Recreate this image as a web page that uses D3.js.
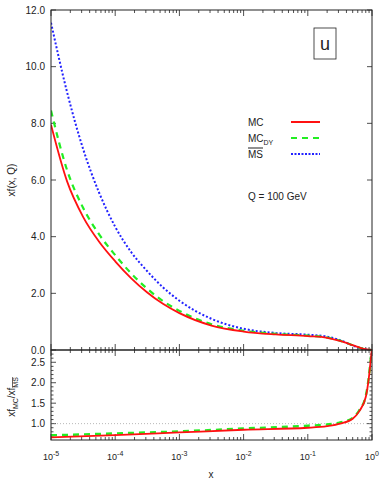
<!DOCTYPE html>
<html>
<head>
<meta charset="utf-8">
<script src="https://cdn.jsdelivr.net/npm/d3@7"></script>
<style>
  body { margin: 0; background: #fff; }
  svg { display: block; font-family: "Liberation Sans", Arial, sans-serif; }
</style>
</head>
<body>
<div id="chart"></div>
<script>
// x grid (shared by the three upper curves)
const xGrid = [1e-5, 1.78e-5, 3.16e-5, 5.62e-5, 1e-4, 1.78e-4, 3.16e-4, 5.62e-4, 1e-3, 3.16e-3, 1e-2, 3.16e-2, 0.1, 0.2, 0.316, 0.5, 0.71, 1];
const mcValues   = [7.95, 5.95, 4.7, 3.82, 3.13, 2.53, 2.03, 1.62, 1.3, 0.86, 0.65, 0.55, 0.49, 0.43, 0.32, 0.17, 0.05, 0.0];
const mcdyValues = [8.45, 6.35, 5.02, 4.08, 3.35, 2.7, 2.16, 1.72, 1.38, 0.91, 0.68, 0.57, 0.51, 0.44, 0.33, 0.17, 0.05, 0.0];
const msValues   = [11.55, 9.1, 7.1, 5.55, 4.35, 3.45, 2.78, 2.2, 1.74, 1.1, 0.75, 0.6, 0.54, 0.47, 0.35, 0.16, 0.04, 0.0];

// ratio panel
const xRatio = [1e-5, 1e-4, 1e-3, 1e-2, 0.1, 0.2, 0.32, 0.5, 0.63, 0.8, 0.89, 0.955, 1];
const mcRatio   = [0.665, 0.72, 0.785, 0.85, 0.90, 0.94, 1.0, 1.12, 1.3, 1.65, 2.1, 2.55, 2.85];
const mcdyRatio = [0.715, 0.76, 0.81, 0.88, 0.95, 0.98, 1.03, 1.14, 1.32, 1.68, 2.12, 2.57, 2.87];

const yTicksTop = [0, 2, 4, 6, 8, 10, 12];
const yTicksBot = [1.0, 1.5, 2.0, 2.5];
const xDecades = [-5, -4, -3, -2, -1, 0];

const width = 381, height = 480;
const pLeft = 51, pRight = 372, pTop = 10, pMid = 350, pBottom = 440;

const svg = d3.select('#chart').append('svg')
    .attr('width', width)
    .attr('height', height);

const x = d3.scaleLog().domain([1e-5, 1]).range([pLeft, pRight]);
const yTop = d3.scaleLinear().domain([0, 12]).range([pMid, pTop]);
const yBot = d3.scaleLinear().domain([0.6, 2.8]).range([pBottom, pMid]);

const defs = svg.append('defs');
defs.append('clipPath').attr('id', 'clip-top')
    .append('rect').attr('x', pLeft).attr('y', pTop).attr('width', pRight - pLeft).attr('height', pMid - pTop);
defs.append('clipPath').attr('id', 'clip-bot')
    .append('rect').attr('x', pLeft).attr('y', pMid).attr('width', pRight - pLeft).attr('height', pBottom - pMid);

const axisColor = '#222';
const tickFont = 10;

// minor/major x ticks
const xMinor = [];
for (let e = -5; e < 0; e++) for (let m = 2; m <= 9; m++) xMinor.push(m * Math.pow(10, e));
const xMajor = xDecades.map(e => Math.pow(10, e));

function xTicks(yLine, dir) {
    const g = svg.append('g').attr('stroke', axisColor).attr('stroke-width', 0.8);
    xMinor.forEach(v => g.append('line')
        .attr('x1', x(v)).attr('x2', x(v)).attr('y1', yLine).attr('y2', yLine + dir * 3));
    xMajor.forEach(v => g.append('line')
        .attr('x1', x(v)).attr('x2', x(v)).attr('y1', yLine).attr('y2', yLine + dir * 6));
}
xTicks(pTop, 1);
xTicks(pMid, -1);
xTicks(pMid, 1);
xTicks(pBottom, -1);

// y ticks upper
const yg = svg.append('g').attr('stroke', axisColor).attr('stroke-width', 0.8);
yTicksTop.forEach(v => {
    yg.append('line').attr('x1', pLeft).attr('x2', pLeft + 5).attr('y1', yTop(v)).attr('y2', yTop(v));
    yg.append('line').attr('x1', pRight).attr('x2', pRight - 5).attr('y1', yTop(v)).attr('y2', yTop(v));
});
// y ticks lower (minor every 0.1, major every 0.5)
d3.range(7, 28).forEach(i => {
    const v = i / 10;
    const len = i % 5 === 0 ? 5 : 2.5;
    yg.append('line').attr('x1', pLeft).attr('x2', pLeft + len).attr('y1', yBot(v)).attr('y2', yBot(v));
    yg.append('line').attr('x1', pRight).attr('x2', pRight - len).attr('y1', yBot(v)).attr('y2', yBot(v));
});

// reference line at 1
svg.append('line')
    .attr('x1', pLeft).attr('x2', pRight)
    .attr('y1', yBot(1)).attr('y2', yBot(1))
    .attr('stroke', '#999').attr('stroke-width', 0.7)
    .attr('stroke-dasharray', '1,2');

// curves
const lineTop = d3.line().x(d => x(d[0])).y(d => yTop(d[1])).curve(d3.curveMonotoneX);
const lineBot = d3.line().x(d => x(d[0])).y(d => yBot(d[1])).curve(d3.curveMonotoneX);

const series = [
    { vals: msValues, color: '#2222ff', dash: '2,2', width: 2 },
    { vals: mcdyValues, color: '#22ee22', dash: '6,5', width: 2.2 },
    { vals: mcValues, color: '#ff1111', dash: null, width: 1.8 }
];
const gTop = svg.append('g').attr('clip-path', 'url(#clip-top)');
series.forEach(s => {
    gTop.append('path')
        .attr('d', lineTop(xGrid.map((v, i) => [v, s.vals[i]])))
        .attr('fill', 'none')
        .attr('stroke', s.color)
        .attr('stroke-width', s.width)
        .attr('stroke-dasharray', s.dash);
});

const gBot = svg.append('g').attr('clip-path', 'url(#clip-bot)');
[{ vals: mcdyRatio, color: '#22ee22', dash: '6,5', width: 2.4 },
 { vals: mcRatio, color: '#ff1111', dash: null, width: 1.8 }].forEach(s => {
    gBot.append('path')
        .attr('d', lineBot(xRatio.map((v, i) => [v, s.vals[i]])))
        .attr('fill', 'none')
        .attr('stroke', s.color)
        .attr('stroke-width', s.width)
        .attr('stroke-dasharray', s.dash);
});

// frames
svg.append('rect').attr('x', pLeft).attr('y', pTop).attr('width', pRight - pLeft).attr('height', pMid - pTop)
    .attr('fill', 'none').attr('stroke', axisColor).attr('stroke-width', 1);
svg.append('rect').attr('x', pLeft).attr('y', pMid).attr('width', pRight - pLeft).attr('height', pBottom - pMid)
    .attr('fill', 'none').attr('stroke', axisColor).attr('stroke-width', 1);

// y tick labels
yTicksTop.forEach(v => {
    svg.append('text')
        .attr('x', 45).attr('y', yTop(v) + 3.5)
        .attr('text-anchor', 'end')
        .attr('font-size', tickFont)
        .attr('fill', '#222')
        .text(v.toFixed(1));
});
yTicksBot.forEach(v => {
    svg.append('text')
        .attr('x', 45).attr('y', yBot(v) + 3.5)
        .attr('text-anchor', 'end')
        .attr('font-size', tickFont)
        .attr('fill', '#222')
        .text(v.toFixed(1));
});

// x tick labels
xDecades.forEach(e => {
    const t = svg.append('text')
        .attr('x', x(Math.pow(10, e)))
        .attr('y', 460)
        .attr('text-anchor', 'middle')
        .attr('font-size', 9)
        .attr('fill', '#222');
    t.append('tspan').text('10');
    t.append('tspan').attr('dy', -4).attr('font-size', 7).text(e);
});

svg.append('text')
    .attr('x', 211).attr('y', 478)
    .attr('text-anchor', 'middle')
    .attr('font-size', 10)
    .attr('fill', '#222')
    .text('x');

// y titles
svg.append('text')
    .attr('transform', 'translate(15,180) rotate(-90)')
    .attr('text-anchor', 'middle')
    .attr('font-size', 10)
    .attr('fill', '#222')
    .text('xf(x, Q)');

const yt = svg.append('text')
    .attr('transform', 'translate(15,397) rotate(-90)')
    .attr('text-anchor', 'middle')
    .attr('font-size', 10)
    .attr('fill', '#222');
yt.append('tspan').text('xf');
yt.append('tspan').attr('font-size', 7).attr('dy', 3).text('MC');
yt.append('tspan').attr('dy', -3).text('/xf');
yt.append('tspan').attr('font-size', 7).attr('dy', 3)
    .style('text-decoration', 'overline').text('MS');

// "u" box
svg.append('rect')
    .attr('x', 314).attr('y', 28).attr('width', 22).attr('height', 31)
    .attr('fill', '#fff').attr('stroke', '#222').attr('stroke-width', 0.8);
svg.append('text')
    .attr('x', 325).attr('y', 50)
    .attr('text-anchor', 'middle')
    .attr('font-size', 18)
    .attr('fill', '#222')
    .text('u');

// legend
const legend = [
    { label: 'MC', sub: null, over: false, color: '#ff1111', dash: null, width: 2 },
    { label: 'MC', sub: 'DY', over: false, color: '#22ee22', dash: '6,5', width: 2.2 },
    { label: 'MS', sub: null, over: true, color: '#2222ff', dash: '2,1.5', width: 2 }
];
legend.forEach((d, i) => {
    const ly = 122 + i * 16;
    const t = svg.append('text')
        .attr('x', 248).attr('y', ly + 3.5)
        .attr('font-size', 10)
        .attr('fill', '#222');
    const main = t.append('tspan').text(d.label);
    if (d.over) main.style('text-decoration', 'overline');
    if (d.sub) t.append('tspan').attr('font-size', 7).attr('dy', 3).text(d.sub);
    svg.append('line')
        .attr('x1', 291).attr('x2', 320)
        .attr('y1', ly).attr('y2', ly)
        .attr('stroke', d.color)
        .attr('stroke-width', d.width)
        .attr('stroke-dasharray', d.dash);
});

svg.append('text')
    .attr('x', 248).attr('y', 200)
    .attr('font-size', 10)
    .attr('fill', '#222')
    .text('Q = 100 GeV');
</script>
</body>
</html>
